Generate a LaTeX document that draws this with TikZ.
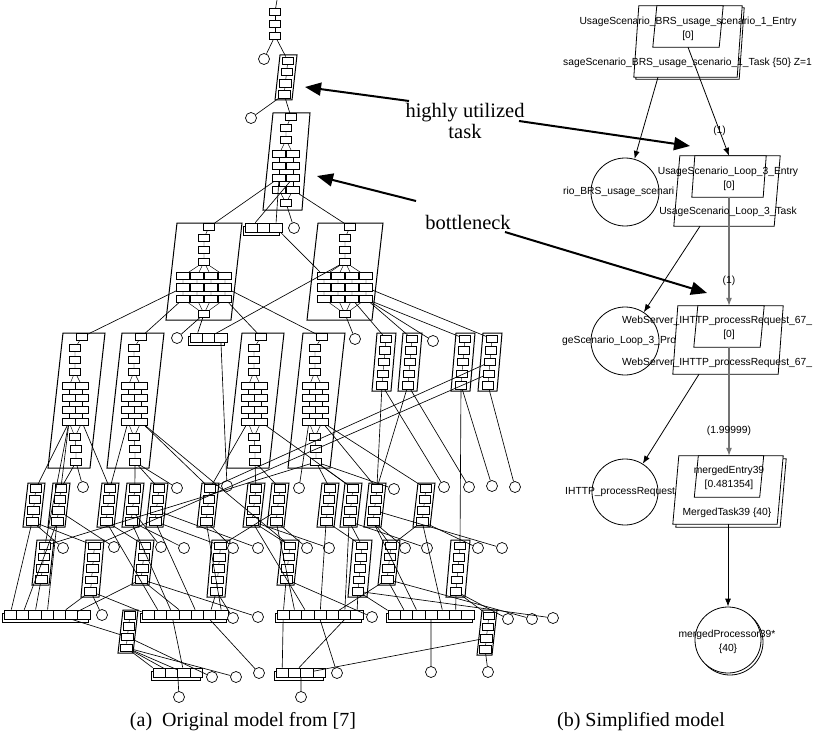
\documentclass[tikz,border=0pt]{standalone}
\usepackage{fontspec}
\setmainfont{Liberation Serif}
\newfontfamily\lqnfont{Liberation Sans}
\usetikzlibrary{arrows.meta}

\tikzset{
  cell/.style={draw,fill=white,line width=.55pt,inner sep=0pt,minimum width=11.5pt,minimum height=7.5pt},
  bcell/.style={draw,fill=white,line width=.7pt,inner sep=0pt,minimum width=12.3pt,minimum height=9pt},
  proc/.style={draw,fill=white,circle,inner sep=0pt,minimum size=11pt,line width=.7pt},
  tframe/.style={line width=1pt},
  tie/.style={line width=.45pt},
  link/.style={line width=.65pt},
  ubox/.style={inner sep=0pt,draw=none},
  rframe/.style={line width=.8pt,fill=white},
  rproc/.style={draw,fill=white,circle,inner sep=0pt,minimum size=68pt,line width=.8pt},
  lbl/.style={font=\lqnfont\fontsize{10.3}{12}\selectfont,inner sep=0pt},
  rarrow/.style={line width=.8pt,-{Latex[length=8pt,width=6pt]}},
  callarrow/.style={line width=2pt,-{Triangle[length=16pt,width=13pt]}},
  note/.style={font=\fontsize{20.5}{21}\selectfont,align=center,inner sep=0pt},
  captext/.style={font=\fontsize{20}{24}\selectfont,inner sep=0pt}
}
% parallelogram over a named box node
\newcommand{\paral}[3][]{\draw[rframe,#1] ([xshift=#3]#2.north west) -- (#2.north east)
  -- ([xshift=-#3]#2.south east) -- (#2.south west) -- cycle;}

\begin{document}
\begin{tikzpicture}[x=1pt,y=-1pt]
\useasboundingbox (0,0) rectangle (816,754);

% ---------------- (a) original model ----------------
% top chain
\coordinate (src) at (277,0);
\foreach \i/\yy in {1/12,2/24,3/36}
  \node[cell] (t0-\i) at (275,\yy) {};
\draw[tie] (t0-1) -- (t0-2) (t0-2) -- (t0-3);

% single column tasks
\foreach \nm/\tx/\ty/\ww/\hh/\kk in {
    hot/280/55/17/45/4,
    d5/377/333/19/58/5, d6/403/333/19/58/5, d7/456/333/19/58/5, d8/483/333/19/58/5,
    e1/28/483/17/44/4, e2/53/483/17/44/4, e3/102/483/17/44/4, e4/127/483/17/44/4,
    e5/151/483/17/44/4, e6/202/483/17/44/4, e7/248/483/17/44/4, e8/272/483/17/44/4,
    e9/322/483/17/44/4, e10/345/483/17/44/4, e11/369/483/17/44/4, e12/418/483/17/44/4,
    f1/37/540/17/45/4, f2/86/540/18/57/5, f3/137/540/17/45/4, f4/212/540/18/57/5,
    f5/282/540/17/45/4, f6/353/540/19/57/5, f7/383/540/17/45/4, f8/451/540/19/57/5,
    g1/123/610/15/43/4, g2/482/610/15/45/4}{
  \draw[tframe] (\tx,\ty) -- ++(\ww,0) -- ++(-5,\hh) -- ++(-\ww,0) -- cycle;
  \foreach \i in {1,...,\kk}
    \node[cell] (\nm-\i) at ({\tx+\ww/2-5*(\i-0.5)/\kk},{\ty+\hh*(\i-0.5)/\kk}) {};
  \foreach \i in {2,...,\kk}{
    \pgfmathtruncatemacro\pv{\i-1}
    \draw[tie] (\nm-\pv) -- (\nm-\i);
  }
}

% bottleneck task
\draw[tframe] (273,113) -- (310,113) -- (302,210) -- (263,210) -- cycle;
\node[cell] (neck-t) at (291,117) {};
\node[cell] (neck-s1) at (286,128) {};
\node[cell] (neck-s2) at (286,140) {};
\foreach \r in {1,...,4} \foreach \c in {1,2}
  \node[cell,minimum width=12.5pt] (neck-g\r\c) at ({265+14*\c},{142+12*\r}) {};
\node[cell] (neck-b) at (286,203) {};
\draw[tie] (neck-t) -- (neck-s1) (neck-s1) -- (neck-s2) (neck-s2) -- (neck-g11) (neck-s2) -- (neck-g12)
  (neck-g41) -- (neck-b) (neck-g42) -- (neck-b);
\foreach \r [count=\rn from 2] in {1,2,3} \foreach \c in {1,2}
  \draw[tie] (neck-g\r\c) -- (neck-g\rn\c);

% wide tasks, four columns
\foreach \nm/\tx in {c1/177, c2/318}{
  \draw[tframe] (\tx,223) -- ++(65,0) -- ++(-11,97) -- ++(-65,0) -- cycle;
  \node[cell] (\nm-t) at (\tx+32,227) {};
  \foreach \i/\yy in {1/238,2/250,3/262}
    \node[cell] (\nm-s\i) at (\tx+27,\yy) {};
  \foreach \r in {1,2,3} \foreach \c in {1,...,4}
    \node[cell,minimum width=12.5pt] (\nm-g\r\c) at ({\tx+6+14*(\c-1)},{264.5+11.5*\r}) {};
  \node[cell] (\nm-b) at (\tx+27,314) {};
  \draw[tie] (\nm-t) -- (\nm-s1) (\nm-s1) -- (\nm-s2) (\nm-s2) -- (\nm-s3);
  \foreach \c in {1,...,4}
    \draw[tie] (\nm-s3) -- (\nm-g1\c) (\nm-g1\c) -- (\nm-g2\c) (\nm-g2\c) -- (\nm-g3\c) (\nm-g3\c) -- (\nm-b);
}

% tall tasks, two columns
\foreach \nm/\tx in {d1/63, d2/122, d3/242, d4/303}{
  \draw[tframe] (\tx,333) -- ++(42,0) -- ++(-15,135) -- ++(-42,0) -- cycle;
  \node[cell] (\nm-t) at (\tx+19,337) {};
  \foreach \i/\yy in {1/348,2/360,3/372}
    \node[cell] (\nm-s\i) at (\tx+12,\yy) {};
  \foreach \r in {1,...,4} \foreach \c in {1,2}
    \node[cell,minimum width=12.5pt] (\nm-g\r\c) at ({\tx+6+13*(\c-1)},{374+12*\r}) {};
  \foreach \i/\yy/\dx in {1/437/12,2/449/13,3/462/13}
    \node[cell] (\nm-l\i) at (\tx+\dx,\yy) {};
  \draw[tie] (\nm-t) -- (\nm-s1) (\nm-s1) -- (\nm-s2) (\nm-s2) -- (\nm-s3)
    (\nm-s3) -- (\nm-g11) (\nm-s3) -- (\nm-g12)
    (\nm-g41) -- (\nm-l1) (\nm-g42) -- (\nm-l1) (\nm-l1) -- (\nm-l2) (\nm-l2) -- (\nm-l3);
  \foreach \r [count=\rn from 2] in {1,2,3} \foreach \c in {1,2}
    \draw[tie] (\nm-g\r\c) -- (\nm-g\rn\c);
}

% multi-entry bars
\foreach \nm/\tx/\ty/\kk in {b0/245/223/3, b1/190/333/3, b2/4/610/7, b3/142/610/7,
    b4/277/610/7, b5/388/610/7, b6/153/668/4, b7/276/668/4}{
  \draw[tframe,fill=white] (\tx-2,\ty+3) rectangle ++({12.3*\kk},9);
  \foreach \i in {1,...,\kk}
    \node[bcell] (\nm-\i) at ({\tx+12.3*(\i-0.5)},{\ty+4.5}) {};
}

% processors
\foreach \nm/\tx/\ty in {p0/264/59, pA/251/118, pB/294/228, q1/177/338, q2/355/339, q3/433/341,
    r1/83/487, r2/177/488, r3/227/486, r4/299/488, r5/394/489, r6/444/487, r7/469/487,
    r8/492/486, r9/515/487,
    s1/63/548, s2/114/547, s3/161/547, s4/184/548, s5/233/548, s6/258/548, s7/307/548,
    s8/329/548, s9/405/548, s10/427/548, s11/478/548, s12/502/548,
    u1/102/615, u2/233/618, u3/258/617, u4/372/617, u5/508/619, u6/532/619, u7/553/618,
    v1/212/677, v2/236/677, v3/259/673, v4/337/673, v5/431/672, v6/488/672,
    v7/179/697, v8/301/697}
  \node[proc] (\nm) at (\tx,\ty) {};

% calls
\foreach \a/\b in {src/t0-1, t0-3/p0, t0-3/hot-1, hot-4/pA, hot-4/neck-t,
    neck-g31/c1-t, neck-g31/b0-3, neck-g32/b0-1, neck-g42/c2-t, neck-b/pB, b0-3/c2-g11,
    c1-g21/d1-t, c1-g31/d2-t, c1-b/q1, c1-b/b1-1, c2-s3/b1-2, c1-g34/d3-t, c1-g24/d4-t,
    c2-b/q2, c2-g33/d5-1, c2-g34/d6-1, c2-g34/d7-1, c2-g24/d8-1, c2-g34/q3, b1-3/r3,
    d1-l3/r1, d1-g41/e1-1, d1-g41/e2-1, d1-g41/f1-1, d1-g42/e3-1, d1-l3/e2-1,
    d2-l3/e4-1, d2-l3/e5-1, d2-l3/r2, d2-g41/e3-1, d2-g42/f5-1, d2-g42/e6-1,
    d3-l3/e7-1, d3-l3/e8-1, d3-g41/e6-1, d3-g42/e10-1,
    d4-l3/e9-1, d4-l3/e10-1, d4-l3/r5, d4-g42/e11-1, d4-g42/e12-1, d4-g41/r4, d4-l3/f1-1,
    d5-5/r6, d5-5/e11-1, d6-5/e11-1, d6-5/r7, d7-5/r8, d8-5/r9, d7-5/f8-1,
    d8-3/e6-1, d8-4/f2-1,
    e1-4/b2-1, e1-4/s1, e1-4/f2-1, e2-4/b2-2, e2-4/b2-4, e2-3/s2, e3-4/f3-1, e3-4/b3-2,
    e4-3/s3, e4-4/s4, e4-4/b3-3, e5-4/f4-1, e5-4/b3-5, e5-3/s6, e6-4/s5, e6-4/b3-7,
    e7-4/f5-1, e7-4/b4-3, e7-4/s8, e8-4/s7, e8-4/b4-2, e8-3/f4-1,
    e9-4/f6-1, e9-4/b4-4, e10-4/f6-1, e10-4/s10, e10-4/b4-6,
    e11-4/f7-1, e11-4/s9, e11-4/b5-3, e11-3/s12, e12-4/f7-1, e12-4/s11, e12-4/b5-5,
    f1-4/b2-3, f2-5/b2-5, f2-5/b3-1, f2-5/u1, f3-4/b2-6, f3-4/b3-4, f3-4/u3,
    f4-5/b3-6, f4-5/u2, f5-4/b4-1, f5-4/u4, f6-5/b4-7, f6-5/b5-1, f6-5/u7,
    f7-4/b4-5, f7-4/b5-2, f7-4/u6, f8-5/b5-6, f8-5/g2-1, f8-5/u5,
    b2-6.south/g1-3, g1-4/b6-1, g1-4/b6-2, g1-4/b6-3, g1-3/v1, g1-4/v2,
    b3-3.south/b6-3, b3-6.south/v3, b4-1.south/b7-1, b4-6.south/b7-2, b4-4.south/v4,
    b5-4.south/v5, g2-3/b7-3, g2-4/v6, b6-2.south east/v7, b7-2.south east/v8}
  \draw[link] (\a) -- (\b);

% ---------------- (b) simplified model ----------------
\node[ubox,minimum width=108pt,minimum height=71pt] (ut1s) at (690,43.5) {};
\node[ubox,minimum width=108pt,minimum height=71pt] (ut1) at (688,41.5) {};
\node[ubox,minimum width=70pt,minimum height=41pt] (ue1) at (688,26.5) {};
\node[ubox,minimum width=106pt,minimum height=70pt] (ut2) at (727,191) {};
\node[ubox,minimum width=74pt,minimum height=41pt] (ue2) at (729,176.5) {};
\node[ubox,minimum width=110pt,minimum height=68pt] (ut3) at (728,340) {};
\node[ubox,minimum width=70pt,minimum height=41pt] (ue3) at (729,326.5) {};
\node[ubox,minimum width=110pt,minimum height=68pt] (ut4s) at (731,493) {};
\node[ubox,minimum width=110pt,minimum height=68pt] (ut4) at (728,490) {};
\node[ubox,minimum width=69pt,minimum height=41pt] (ue4) at (729,476.5) {};

% processors and their (cut) names
\node[rproc] (uc1) at (625,192) {};
\node[rproc] (uc2) at (625,341) {};
\node[rproc,minimum size=66pt] (uc3) at (625,492) {};
\node[rproc,minimum size=66pt] (uc4s) at (730,642) {};
\node[rproc,minimum size=66pt] (uc4) at (728,640) {};
\node[lbl,anchor=west] (uc1-n) at (563,192) {rio\_BRS\_usage\_scenari};
\node[lbl,anchor=west] (uc2-n) at (562,341) {geScenario\_Loop\_3\_Pro};
\node[lbl,anchor=west] (uc3-n) at (565,492) {IHTTP\_processRequest};

% tasks and entries
\paral{ut1s}{5pt} \paral{ut1}{5pt} \paral{ue1}{4pt}
\paral{ut2}{6pt} \paral{ue2}{3pt}
\paral{ut3}{5pt} \paral{ue3}{4pt}
\paral{ut4s}{6pt} \paral{ut4}{6pt} \paral{ue4}{4pt}

% calls
\draw[rarrow] ([xshift=-30pt]ut1.south) -- (uc1);
\draw[rarrow] ([xshift=-27pt]ut2.south) -- (uc2);
\draw[rarrow] ([xshift=-29pt]ut3.south) -- (uc3);
\draw[rarrow] (ut4.south) -- (uc4);
\draw[rarrow] (ue1.south) -- node[lbl,pos=.77] (w1) {(1)} (ue2.north);
\draw[rarrow,draw=black!55,line width=1.1pt] (ue2.south) -- node[lbl,pos=.77] (w2) {(1)} (ue3.north);
\draw[rarrow,draw=black!55,line width=1.1pt] (ue3.south) -- node[lbl,pos=.77] (w3) {(1.99999)} (ue4.north);

% names
\node[lbl] (ue1-n) at (688,22) {UsageScenario\_BRS\_usage\_scenario\_1\_Entry};
\node[lbl] (ue1-d) at (688,36) {[0]};
\node[lbl,anchor=west] (ut1-n) at (563,63) {sageScenario\_BRS\_usage\_scenario\_1\_Task \{50\} Z=1};
\node[lbl] (ue2-n) at (728,172) {UsageScenario\_Loop\_3\_Entry};
\node[lbl] (ue2-d) at (729,186) {[0]};
\node[lbl] (ut2-n) at (728,212) {UsageScenario\_Loop\_3\_Task};
\node[lbl,anchor=west] (ue3-n) at (622,321) {WebServer\_IHTTP\_processRequest\_67\_};
\node[lbl] (ue3-d) at (729,335) {[0]};
\node[lbl,anchor=west] (ut3-n) at (622,363) {WebServer\_IHTTP\_processRequest\_67\_};
\node[lbl] (ue4-n) at (729,471) {mergedEntry39};
\node[lbl] (ue4-d) at (729,485) {[0.481354]};
\node[lbl] (ut4-n) at (727,513) {MergedTask39 \{40\}};
\node[lbl] (uc4-n) at (727,635) {mergedProcessor39*};
\node[lbl] (uc4-d) at (728,649) {\{40\}};

% ---------------- call-outs ----------------
\node[note] (hut) at (465,121) {highly utilized\\task};
\node[note] (bneck) at (468,222) {bottleneck};
\coordinate (hl) at (409,101);  \coordinate (hotpt) at (305,87);
\coordinate (hr) at (519,121);  \coordinate (t2pt) at (690,146);
\coordinate (bl) at (416,201);  \coordinate (neckpt) at (317,176);
\coordinate (br) at (505,232);  \coordinate (t3pt) at (707,293);
\draw[callarrow] (hl) -- (hotpt);
\draw[callarrow] (hr) -- (t2pt);
\draw[callarrow] (bl) -- (neckpt);
\draw[callarrow] (br) -- (t3pt);

% captions
\node[captext] (capa) at (243,722) {(a)\ \ Original model from [7]};
\node[captext] (capb) at (641,722) {(b) Simplified model};
\end{tikzpicture}
\end{document}
